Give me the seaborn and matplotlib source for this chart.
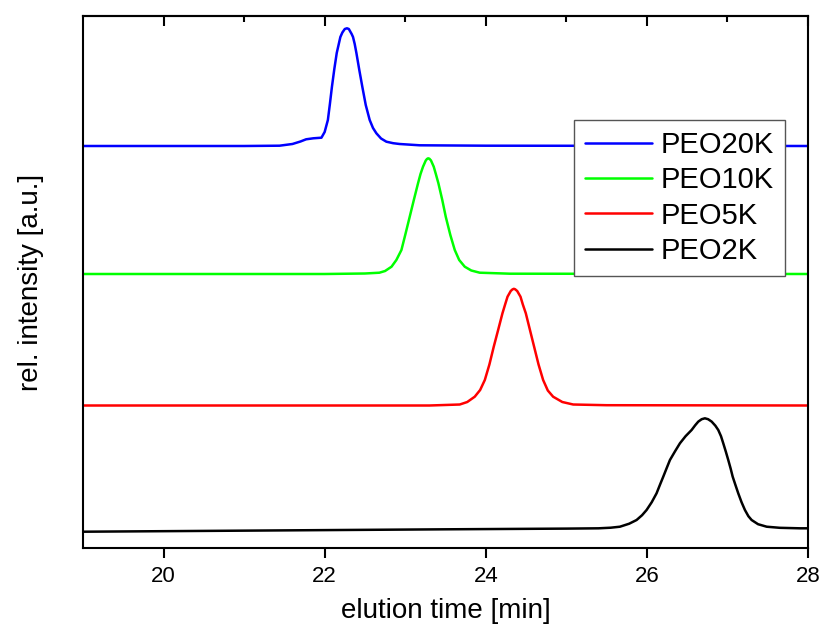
import numpy as np
import pandas as pd
import matplotlib
matplotlib.use("Agg")
import matplotlib.pyplot as plt
import seaborn as sns

# ---------------- data ----------------
samples = ["PEO20K", "PEO10K", "PEO5K", "PEO2K"]
colors = ["#0000ff", "#00ff00", "#ff0000", "#000000"]
offsets = [402.0, 274.0, 142.5, 16.3]  # baseline of each trace (a.u.)

peo20k_t = [19.0, 20.0, 21.0, 21.44, 21.6, 21.7, 21.77, 21.86, 21.96, 22.0,
            22.04, 22.065, 22.09, 22.12, 22.15, 22.195, 22.22, 22.25, 22.277, 22.30,
            22.335, 22.352, 22.373, 22.394, 22.43, 22.468, 22.51, 22.559, 22.6, 22.642,
            22.7, 22.766, 22.85, 22.93, 23.18, 24.0, 28.0]
peo20k_i = [0, 0, 0, 0.3, 2, 4.5, 6.7, 7.7, 8.3, 14,
            26, 42, 59, 77, 93, 109, 113.5, 117, 117.7, 117,
            112, 109, 102, 93, 76, 59, 41, 26, 18, 12.7,
            7.5, 4.3, 2.8, 2, 0.7, 0.3, 0]

peo10k_t = [19.0, 22.0, 22.5, 22.68, 22.75, 22.83, 22.89, 22.953, 23.0, 23.056,
            23.11, 23.159, 23.19, 23.221, 23.255, 23.27, 23.284, 23.30, 23.32, 23.354,
            23.38, 23.412, 23.46, 23.503, 23.56, 23.615, 23.67, 23.739, 23.82, 23.925,
            24.3, 28.0]
peo10k_i = [0, 0, 0.5, 1.3, 3, 7.3, 14, 24, 39, 57.3,
            75, 90.7, 100, 107.3, 113.5, 115, 115.7, 115.3, 113.5, 107.3,
            100, 90.7, 74, 57.3, 39, 24, 14, 7.3, 3.5, 1.3,
            0.3, 0]

peo5k_t = [19.0, 23.3, 23.677, 23.77, 23.863, 23.93, 23.988, 24.045, 24.099, 24.155,
           24.207, 24.24, 24.27, 24.31, 24.33, 24.348, 24.365, 24.39, 24.431, 24.46,
           24.497, 24.55, 24.6, 24.655, 24.712, 24.77, 24.836, 24.95, 25.085, 25.5,
           28.0]
peo5k_i = [0, 0, 1, 3.5, 8.8, 15.5, 25.5, 41, 58.8, 76,
           92.2, 101, 108.8, 114.5, 116, 116.7, 116.2, 114.5, 108.8, 101,
           92.2, 75, 58.8, 41, 25.5, 15, 8.8, 3.5, 1, 0.3,
           0]

peo2k_t = [19.0, 20.5, 22.0, 23.5, 25.0, 25.4, 25.55, 25.665, 25.78, 25.872,
           25.94, 25.996, 26.06, 26.12, 26.16, 26.203, 26.245, 26.286, 26.35, 26.41,
           26.48, 26.555, 26.6, 26.638, 26.68, 26.72, 26.76, 26.804, 26.85, 26.886,
           26.92, 26.948, 26.98, 27.01, 27.04, 27.065, 27.1, 27.134, 27.175, 27.217,
           27.26, 27.3, 27.38, 27.487, 27.65, 27.9, 28.0]
peo2k_i = [0, 0.8, 1.6, 2.4, 3.1, 3.4, 4, 5, 8, 11.7,
           16.5, 21.7, 29.5, 38.4, 46.5, 55, 63.5, 71.7, 80.5, 88.4,
           95.5, 101.7, 106.5, 110.1, 112.5, 113.4, 112.5, 110.1, 106, 101.7,
           95.5, 88.4, 80, 71.7, 63, 55, 46.5, 38.4, 29.5, 21.7,
           15.5, 11.7, 7.5, 5, 3.9, 3.4, 3.4]

x_ticks = [20, 22, 24, 26, 28]
x_minor_ticks = [21, 23, 25, 27]
x_label = "elution time [min]"
y_label = "rel. intensity [a.u.]"

# ---------------- build long-form table ----------------
traces = [(peo20k_t, peo20k_i), (peo10k_t, peo10k_i),
          (peo5k_t, peo5k_i), (peo2k_t, peo2k_i)]
rows = []
for name, off, (t, inten) in zip(samples, offsets, traces):
    for ti, ii in zip(t, inten):
        rows.append({"time": ti, "signal": ii + off, "sample": name})
df = pd.DataFrame(rows)

# ---------------- plot ----------------
sns.set_style("ticks")
plt.rcParams["font.family"] = ["Liberation Sans", "DejaVu Sans"]
plt.rcParams["text.color"] = "black"
plt.rcParams["axes.labelcolor"] = "black"
plt.rcParams["xtick.color"] = "black"
plt.rcParams["ytick.color"] = "black"

fig = plt.figure(figsize=(8.24, 6.37), dpi=100)
ax = fig.add_axes([0.1007, 0.1397, 0.8799, 0.8352])

sns.lineplot(data=df, x="time", y="signal", hue="sample", hue_order=samples,
             palette=dict(zip(samples, colors)), linewidth=1.8, ax=ax,
             sort=False, estimator=None, legend=True,
             solid_joinstyle="round", solid_capstyle="round")

ax.set_xlim(19, 28)
ax.set_ylim(0, 532)
ax.set_xticks(x_ticks)
ax.set_yticks([])
ax.tick_params(axis="x", which="major", direction="out", length=7, width=1.5,
               labelsize=16, pad=6, top=False, colors="black")
ax.set_xlabel(x_label, fontsize=20, labelpad=8)
ax.set_ylabel(y_label, fontsize=20, labelpad=28)
for sp in ax.spines.values():
    sp.set_visible(True)
    sp.set_linewidth(1.5)
    sp.set_color("black")

# top ticks pointing inward (major + minor)
sec = ax.secondary_xaxis("top")
sec.set_xticks(x_ticks)
sec.set_xticks(x_minor_ticks, minor=True)
sec.tick_params(which="major", direction="in", length=7.5, width=1.5, labeltop=False)
sec.tick_params(which="minor", direction="in", length=4.5, width=1.5)
sec.spines["top"].set_linewidth(1.5)

handles, labels = ax.get_legend_handles_labels()
leg = ax.legend(handles, labels, loc="upper left", bbox_to_anchor=(0.677, 0.8045),
                borderaxespad=0, fontsize=21, frameon=True, fancybox=False,
                handlelength=2.3, handletextpad=0.3, labelspacing=0.25,
                borderpad=0.38, framealpha=1)
leg.get_frame().set_edgecolor("#555555")
leg.get_frame().set_linewidth(1.0)
for line in leg.get_lines():
    line.set_linewidth(1.8)

fig.savefig("out.png", dpi=100)
